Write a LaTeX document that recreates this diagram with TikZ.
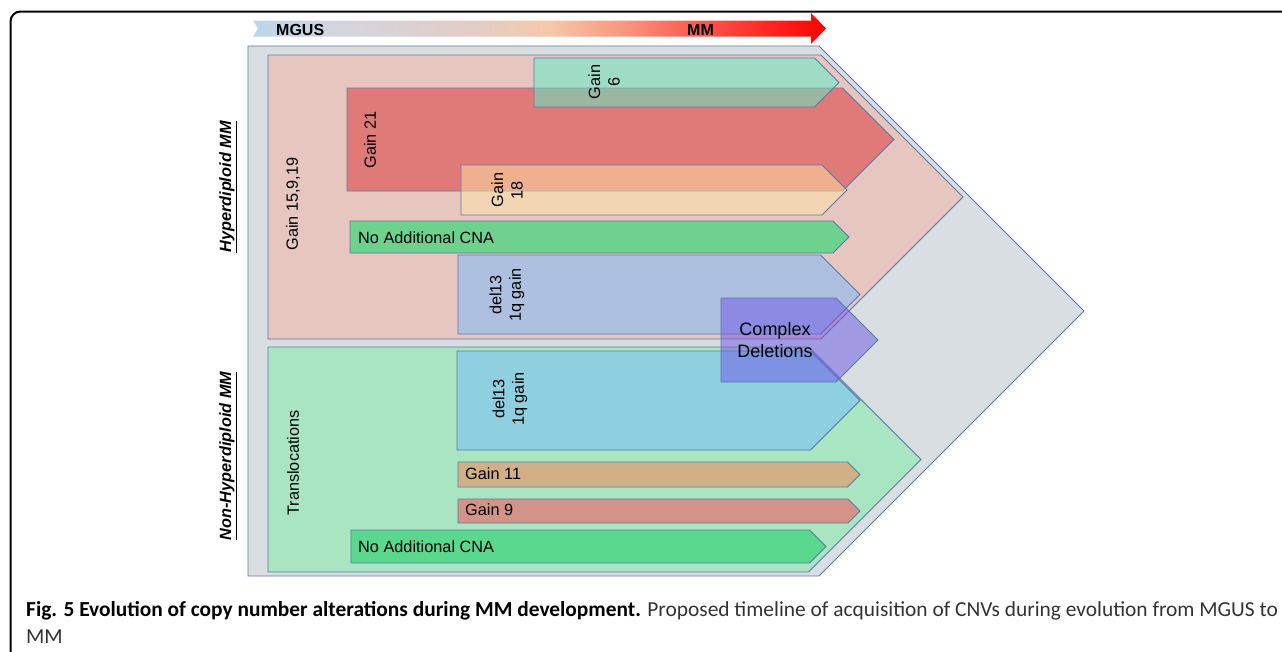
\documentclass[tikz,border=0pt]{standalone}
\usepackage{fontspec}
\setmainfont{Liberation Sans}
\newfontfamily\capfont{Carlito}
\usetikzlibrary{positioning}

\definecolor{bandline}{RGB}{92,120,170}
\definecolor{outergray}{RGB}{217,222,227}
\definecolor{hyperpink}{RGB}{231,198,192}
\definecolor{nonhypergreen}{RGB}{169,229,193}
\definecolor{gainred}{RGB}{224,122,120}
\definecolor{gainteal}{RGB}{88,242,202}
\definecolor{gainpeach}{RGB}{253,231,167}
\definecolor{nocnagreen}{RGB}{111,209,142}
\definecolor{nocnagreenb}{RGB}{90,217,142}
\definecolor{delblue}{RGB}{173,192,224}
\definecolor{delcyan}{RGB}{142,207,224}
\definecolor{gaintan}{RGB}{210,176,135}
\definecolor{gainrose}{RGB}{211,147,137}
\definecolor{complexviolet}{RGB}{109,86,228}
\definecolor{captext}{RGB}{51,51,51}
% timeline colours
\definecolor{tlblue}{RGB}{188,214,236}
\definecolor{tlgray}{RGB}{210,213,223}
\definecolor{tltan}{RGB}{228,205,195}
\definecolor{tlpeach}{RGB}{246,200,170}
\definecolor{tlsalmon}{RGB}{248,150,125}
\definecolor{tlcoral}{RGB}{250,105,90}
\definecolor{tlred}{RGB}{255,30,30}
\definecolor{tlredb}{RGB}{255,0,0}
\pgfdeclarehorizontalshading{mgustomm}{100bp}{color(0bp)=(tlblue); color(25bp)=(tlblue); color(31.7bp)=(tlgray); color(45bp)=(tltan); color(50.8bp)=(tlpeach); color(57.5bp)=(tlsalmon); color(62bp)=(tlcoral); color(71bp)=(tlred); color(75bp)=(tlredb); color(100bp)=(tlredb)}

\newcommand{\lblfont}{\fontsize{16.3}{19.5}\selectfont}
% band with a 45 degree tip: style, left, top, bottom, tip
\newcommand{\cnaband}[5]{%
  \draw[#1] (#2,#3) -- ({#5-(#4-#3)/2},#3) -- (#5,{(#3+#4)/2}) -- ({#5-(#4-#3)/2},#4) -- (#2,#4) -- cycle;}

\begin{document}
\begin{tikzpicture}[x=1pt, y=-1pt,
    band/.style={draw=bandline, line width=0.8pt},
    seethrough/.style={fill opacity=0.5},
    lbl/.style={font=\lblfont, inner sep=0pt, text=black},
    vlbl/.style={lbl, rotate=90, align=center}]
    \useasboundingbox (0,0) rectangle (1282,651);
    \clip (0,0) rectangle (1282,651);
    % frame
    \draw[line width=2pt, rounded corners=10] (1295,11.5) -- (10.5,11.5) -- (10.5,668);
    % timeline arrow
    \shade[shading=mgustomm] (253,20.5) -- (811,20.5) -- (811,13) -- (826,28.5) -- (811,44) -- (811,36.5) -- (253,36.5) -- (258,28.5) -- cycle;
    \node[lbl, font=\fontsize{16}{19}\selectfont\bfseries, anchor=base west] (mgus) at (276,35) {MGUS};
    \node[lbl, font=\fontsize{16}{19}\selectfont\bfseries, anchor=base west] (mm) at (687,35) {MM};
    % groups
    \cnaband{band, fill=outergray}{248}{46}{576}{1084}
    \cnaband{band, fill=hyperpink}{268}{55}{339}{963}
    \cnaband{band, fill=nonhypergreen}{268}{347}{572}{921}
    % hyperdiploid
    \cnaband{band, fill=gainred}{347}{88}{191}{894}
    \cnaband{band, fill=gainteal, seethrough}{534}{58}{107}{839}
    \cnaband{band, fill=gainpeach, seethrough}{461}{165}{215}{847}
    \cnaband{band, fill=nocnagreen}{350}{221}{253}{849}
    \cnaband{band, fill=delblue}{458}{255}{334}{860}
    % non-hyperdiploid
    \cnaband{band, fill=delcyan}{457}{351}{450}{860}
    \cnaband{band, fill=gaintan}{458}{462}{487}{860}
    \cnaband{band, fill=gainrose}{458}{499}{523}{860}
    \cnaband{band, fill=nocnagreenb}{351}{530}{563}{826}
    \cnaband{band, fill=complexviolet, seethrough}{721}{298}{382}{878}
    % labels
    \node[vlbl, font=\lblfont\bfseries\itshape] (hyper) at (228,187) {\underline{Hyperdiploid MM}};
    \node[vlbl, font=\lblfont\bfseries\itshape] (nonhyper) at (228,456) {\underline{Non-Hyperdiploid MM}};
    \node[vlbl] (gainA) at (293,204) {Gain 15,9,19};
    \node[vlbl] (gainB) at (370,140) {Gain 21};
    \node[vlbl] (gainC) at (604,82) {Gain\\6};
    \node[vlbl] (gainD) at (507,190) {Gain\\18};
    \node[lbl, anchor=base west] (nocnaA) at (358,243.8) {No Additional CNA};
    \node[vlbl] (delA) at (507,295) {del13\\1q gain};
    \node[vlbl] (trans) at (293,463) {Translocations};
    \node[vlbl] (delB) at (510,399) {del13\\1q gain};
    \node[lbl, anchor=base west] (gainE) at (465,479.8) {Gain 11};
    \node[lbl, anchor=base west] (gainF) at (465,515.8) {Gain 9};
    \node[lbl, anchor=base west] (nocnaB) at (358,552.8) {No Additional CNA};
    \node[lbl, font=\fontsize{18}{22.5}\selectfont, align=center] (complex) at (775,340) {Complex\\Deletions};
    % caption
    \node[inner sep=0pt, anchor=base west, font=\capfont\fontsize{21.4}{27}\selectfont, text=captext] (caption) at (26,616)
        {\textcolor{black}{\bfseries Fig. 5 Evolution of copy number alterations during MM development.} Proposed timeline of acquisition of CNVs during evolution from MGUS to};
    \node[inner sep=0pt, anchor=base west, font=\capfont\fontsize{21.4}{27}\selectfont, text=captext] (captionb) at (26,643.3) {MM};
\end{tikzpicture}
\end{document}
